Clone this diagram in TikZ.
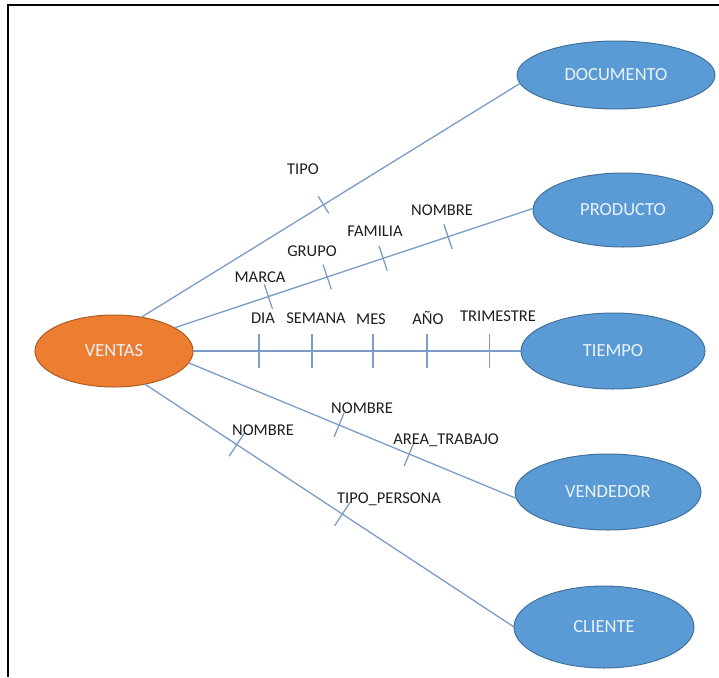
\documentclass[tikz,border=0pt]{standalone}
\usepackage{fontspec}
\setmainfont{Carlito}
\usetikzlibrary{shapes.geometric,decorations.markings}

\definecolor{entblue}{HTML}{5B9BD5}
\definecolor{entedge}{HTML}{41719C}
\definecolor{factorange}{HTML}{ED7D31}
\definecolor{factedge}{HTML}{AE5A21}
\definecolor{linkblue}{HTML}{7A9CC6}
\definecolor{labeltext}{HTML}{1E1E1E}
\definecolor{entitytext}{HTML}{EAF2FB}

% short stroke across a connector, #1 = half length in pt
\newcommand{\attrtick}[1]{\draw[draw=linkblue, line width=1.3pt] (0pt,-#1pt) -- (0pt,#1pt);}

\begin{document}
\begin{tikzpicture}[x=1pt,y=-1pt,
  entity/.style={ellipse, draw=entedge, fill=entblue, line width=1pt,
    inner sep=0pt, outer sep=0pt, text=entitytext,
    font=\fontsize{18.5}{22}\selectfont},
  fact/.style={entity, draw=factedge, fill=factorange},
  link/.style={draw=linkblue, line width=1.3pt},
  attr/.style={text=labeltext, font=\fontsize{16.5}{19}\selectfont, inner sep=0pt},
]
\useasboundingbox (0,0) rectangle (719,677);

% page frame (top and left edges)
\draw[line width=2.5pt] (8,677) -- (8,5) -- (719,5);

% fact and dimension ellipses
\node[fact, minimum width=158pt, minimum height=72pt] (ventas) at (114,351) {VENTAS};
\node[entity, minimum width=198pt, minimum height=68pt] (documento) at (616,75) {DOCUMENTO};
\node[entity, minimum width=180pt, minimum height=74pt] (producto) at (623,210) {PRODUCTO};
\node[entity, minimum width=184pt, minimum height=76pt] (tiempo) at (613,351) {TIEMPO};
\node[entity, minimum width=186pt, minimum height=76pt] (vendedor) at (608,492) {VENDEDOR};
\node[entity, minimum width=180pt, minimum height=82pt] (cliente) at (604,627) {CLIENTE};

% connectors with attribute ticks
\draw[link, postaction={decorate}, decoration={markings,
    mark=at position 0.481 with {\attrtick{10}}}]
  (ventas.51) -- (documento.185);
\draw[link, postaction={decorate}, decoration={markings,
    mark=at position 0.262 with {\attrtick{13}},
    mark=at position 0.426 with {\attrtick{13}},
    mark=at position 0.582 with {\attrtick{13}},
    mark=at position 0.763 with {\attrtick{13}}}]
  (ventas.21) -- (producto.179);
\draw[link, postaction={decorate}, decoration={markings,
    mark=at position 0.201 with {\attrtick{17}},
    mark=at position 0.363 with {\attrtick{17}},
    mark=at position 0.549 with {\attrtick{17}},
    mark=at position 0.713 with {\attrtick{17}},
    mark=at position 0.905 with {\attrtick{17}}}]
  (ventas.east) -- (tiempo.west);
\draw[link, postaction={decorate}, decoration={markings,
    mark=at position 0.459 with {\attrtick{13}},
    mark=at position 0.673 with {\attrtick{13}}}]
  (ventas.-9) -- (vendedor.184);
\draw[link, postaction={decorate}, decoration={markings,
    mark=at position 0.249 with {\attrtick{14}},
    mark=at position 0.535 with {\attrtick{14}}}]
  (ventas.-47) -- (cliente.180);

% attribute labels
\node[attr] (tipo) at (303,169) {TIPO};
\node[attr] (marca) at (260,277) {MARCA};
\node[attr] (grupo) at (312,251) {GRUPO};
\node[attr] (familia) at (375,231) {FAMILIA};
\node[attr] (nomprod) at (442,210) {NOMBRE};
\node[attr] (dia) at (263,318) {DIA};
\node[attr] (semana) at (316,318) {SEMANA};
\node[attr] (mes) at (371,319) {MES};
\node[attr] (anio) at (428,318) {AÑO};
\node[attr] (trimestre) at (498,316) {TRIMESTRE};
\node[attr] (nomvend) at (362,408) {NOMBRE};
\node[attr] (area) at (446,440) {AREA\_TRABAJO};
\node[attr] (nomcli) at (263,430) {NOMBRE};
\node[attr] (tipopers) at (389,499) {TIPO\_PERSONA};
\end{tikzpicture}
\end{document}
